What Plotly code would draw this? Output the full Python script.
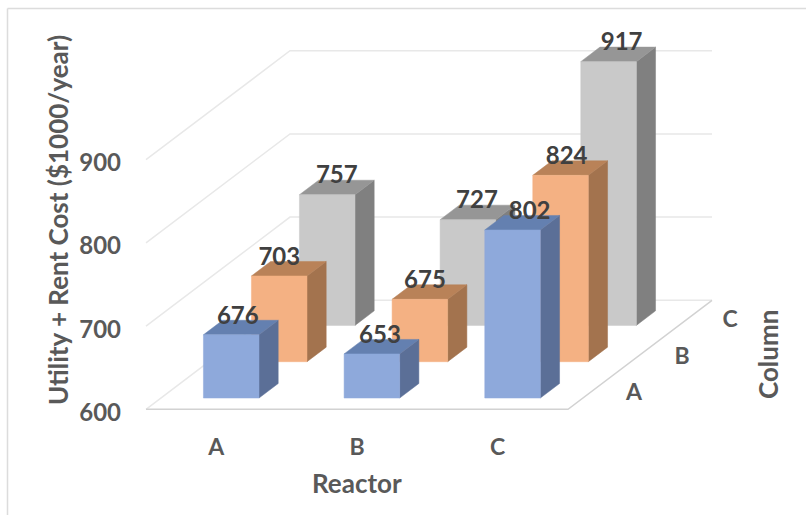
import plotly.graph_objects as go

# ---- data ----
reactors = ["A", "B", "C"]
columns = ["A", "B", "C"]
cost_column_a = [676, 653, 802]
cost_column_b = [703, 675, 824]
cost_column_c = [757, 727, 917]
value_ticks = [600, 700, 800, 900]

# ---- styling ----
FRONT = ["#8EA9DB", "#F4B183", "#C9C9C9"]
TOP = ["#6480B0", "#B98258", "#969696"]
SIDE = ["#5B6F97", "#A3734E", "#808080"]
GRID = "#E8E8E8"
FLOOR = "#D2D2D2"
FONT = "Lato, Carlito, sans-serif"

# Oblique projection: one column of depth moves right and up
DX = 48 / 140.67        # category units per column
DY = 36.33 / 0.832      # value units per column
BASE = 600
BAR_W = 0.395
D0, D1 = 0.31, 0.71     # bar extent in depth inside one column slot

# Small label adjustments (px), series x reactor
PX_X = 1 / 140.67
PX_Y = 1 / 0.832
nudge_x = [[-3, -1.5, 7.5], [-9.5, -4.5, -3.5], [0, -0.5, 3.5]]
label_lift = 10


def proj(cat, depth, value):
    return cat + depth * DX, value + depth * DY


def poly(points, color):
    xs, ys = zip(*[proj(*p) for p in points])
    return go.Scatter(x=list(xs) + [xs[0]], y=list(ys) + [ys[0]], mode="lines",
                      fill="toself", fillcolor=color, line=dict(width=0.5, color=color),
                      hoverinfo="skip", showlegend=False)


def path(points, color, width=1.5):
    xs, ys = zip(*[proj(*p) for p in points])
    return go.Scatter(x=xs, y=ys, mode="lines", line=dict(color=color, width=width),
                      hoverinfo="skip", showlegend=False)


fig = go.Figure()
n = len(reactors)
depth_n = len(columns)

# wall gridlines
for v in value_ticks[1:]:
    fig.add_trace(path([(0, 0, v), (0, depth_n, v), (n, depth_n, v)], GRID))
# floor
fig.add_trace(path([(0, 0, BASE), (0, depth_n, BASE), (n, depth_n, BASE)], GRID))
fig.add_trace(path([(0, 0, BASE), (n, 0, BASE), (n, depth_n, BASE)], FLOOR))

series = [cost_column_a, cost_column_b, cost_column_c]

# bars, back to front
for s in reversed(range(depth_n)):
    for r, val in enumerate(series[s]):
        x0, x1 = r + 0.5 - BAR_W / 2, r + 0.5 + BAR_W / 2
        d0, d1 = s + D0, s + D1
        fig.add_trace(poly([(x1, d0, BASE), (x1, d1, BASE), (x1, d1, val), (x1, d0, val)], SIDE[s]))
        fig.add_trace(poly([(x0, d0, val), (x1, d0, val), (x1, d1, val), (x0, d1, val)], TOP[s]))
        fig.add_trace(poly([(x0, d0, BASE), (x1, d0, BASE), (x1, d0, val), (x0, d0, val)], FRONT[s]))

# value labels, above all bars
lx, ly, lt = [], [], []
for s in range(depth_n):
    for r, val in enumerate(series[s]):
        px_, py_ = proj(r + 0.5, s + (D0 + D1) / 2, val)
        lx.append(px_ + nudge_x[s][r] * PX_X)
        ly.append(py_ + label_lift * PX_Y)
        lt.append(str(val))
fig.add_trace(go.Scatter(x=lx, y=ly, text=lt, mode="text", textposition="middle center",
                         textfont=dict(family=FONT, size=24, color="#404040", weight="bold"),
                         hoverinfo="skip", showlegend=False))

# depth-axis labels
dx_, dy_ = [], []
for d in range(depth_n):
    a, b = proj(n, d + 0.5, BASE)
    dx_.append(a + 42 * PX_X)
    dy_.append(b - 3 * PX_Y)
fig.add_trace(go.Scatter(x=dx_, y=dy_, text=columns, mode="text", textposition="middle center",
                         textfont=dict(family=FONT, size=23, color="#595959", weight="bold"),
                         hoverinfo="skip", showlegend=False))

W, H = 806, 515
x_min, x_max = (0 - 146) / 140.67, (W - 146) / 140.67
y_max, y_min = 600 + 409.3 / 0.832, 600 + (409.3 - H) / 0.832

fig.update_layout(
    width=W, height=H, margin=dict(l=0, r=0, t=0, b=0),
    paper_bgcolor="white", plot_bgcolor="white", showlegend=False,
    font=dict(family=FONT, color="#595959"),
    xaxis=dict(range=[x_min, x_max], domain=[0, 1], showgrid=False, zeroline=False, showline=False,
               tickmode="array", tickvals=[i + 0.5 for i in range(n)], ticktext=reactors,
               ticks="", anchor="free", position=(H - 409.3) / H, ticklabelstandoff=22,
               tickfont=dict(family=FONT, size=23, color="#595959", weight="bold")),
    yaxis=dict(range=[y_min, y_max], domain=[0, 1], showgrid=False, zeroline=False, showline=False,
               tickmode="array", tickvals=value_ticks, ticks="", anchor="free", position=121 / W,
               ticklabelshift=3,
               tickfont=dict(family=FONT, size=24, color="#595959", weight="bold")),
    shapes=[
        dict(type="line", xref="paper", yref="paper", x0=7.5 / W, x1=7.5 / W, y0=0, y1=1 - 8.5 / H,
             line=dict(color="#DCDCDC", width=1.5)),
        dict(type="line", xref="paper", yref="paper", x0=7.5 / W, x1=1, y0=1 - 8.5 / H, y1=1 - 8.5 / H,
             line=dict(color="#DCDCDC", width=1.5)),
    ],
    annotations=[
        dict(text="Utility + Rent Cost ($1000/year)", xref="paper", yref="paper",
             x=58 / W, y=1 - 220 / H, textangle=-90, showarrow=False, xanchor="center", yanchor="middle",
             font=dict(family=FONT, size=26, color="#595959", weight="bold")),
        dict(text="Reactor", xref="paper", yref="paper", x=357 / W, y=1 - 483 / H, showarrow=False,
             xanchor="center", yanchor="middle",
             font=dict(family=FONT, size=26, color="#595959", weight="bold")),
        dict(text="Column", xref="paper", yref="paper", x=768 / W, y=1 - 355 / H, textangle=-90,
             showarrow=False, xanchor="center", yanchor="middle",
             font=dict(family=FONT, size=26, color="#595959", weight="bold")),
    ],
)

fig.write_html("out.html", config={"displayModeBar": False},
               post_script="document.body.style.margin='0';document.body.style.overflow='hidden';")
